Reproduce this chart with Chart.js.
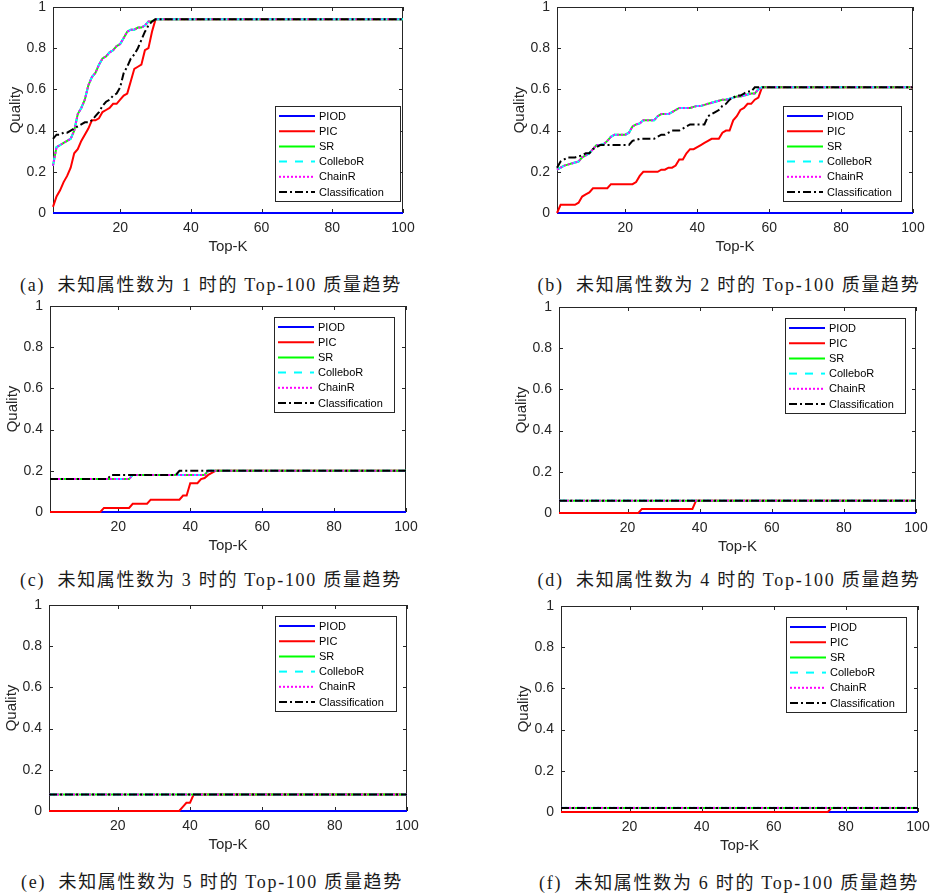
<!DOCTYPE html>
<html>
<head>
<meta charset="utf-8">
<script src="https://cdn.jsdelivr.net/npm/chart.js@4.4.0/dist/chart.umd.min.js"></script>
<style>
body { margin: 0; background: #fff; width: 932px; height: 894px; overflow: hidden; position: relative; }
canvas { position: absolute; }
.cap { position: absolute; font-family: "Liberation Serif", "Noto Sans CJK SC", serif; font-size: 18px; letter-spacing: 1.7px; color: #1a1a1a; white-space: pre; transform: translate(-50%, -50%); }
</style>
</head>
<body>
<script>
// series + axis labels
const seriesNames = ['PIOD', 'PIC', 'SR', 'ColleboR', 'ChainR', 'Classification'];
const xTicks = [20, 40, 60, 80, 100];
const yTicks = [0, 0.2, 0.4, 0.6, 0.8, 1];
const captions = [
    '(a)  未知属性数为 1 时的 Top-100 质量趋势',
    '(b)  未知属性数为 2 时的 Top-100 质量趋势',
    '(c)  未知属性数为 3 时的 Top-100 质量趋势',
    '(d)  未知属性数为 4 时的 Top-100 质量趋势',
    '(e)  未知属性数为 5 时的 Top-100 质量趋势',
    '(f)  未知属性数为 6 时的 Top-100 质量趋势'
];

// [Top-K, Quality]. SR, ColleboR and ChainR coincide -> one array "upper"
const piod_a = [[1, 0], [100, 0]];
const pic_a = [[1, .03], [2, .08], [3, .11], [4, .15], [5, .18], [6, .22], [7, .29], [8, .31], [9, .35], [10, .38],
    [11, .41], [12, .45], [13, .45], [14, .46], [15, .49], [16, .50], [17, .51], [18, .53], [19, .53], [20, .55],
    [21, .57], [22, .58], [23, .64], [24, .70], [25, .71], [26, .72], [27, .79], [28, .80], [29, .88], [30, .94], [100, .94]];
const upper_a = [[1, .23], [2, .32], [3, .33], [4, .34], [5, .35], [6, .36], [7, .40], [8, .48], [9, .51], [10, .55],
    [11, .62], [12, .66], [13, .68], [14, .72], [15, .75], [16, .76], [17, .78], [18, .79], [19, .81], [20, .82],
    [21, .85], [22, .88], [23, .89], [24, .89], [25, .90], [26, .90], [27, .91], [28, .93], [29, .93], [30, .94], [100, .94]];
const cls_a = [[1, .36], [2, .38], [3, .38], [4, .39], [5, .39], [6, .40], [7, .41], [8, .42], [9, .43], [10, .44],
    [11, .44], [12, .45], [13, .47], [14, .49], [15, .52], [16, .54], [17, .55], [18, .57], [19, .58], [20, .61],
    [21, .68], [22, .71], [23, .75], [24, .77], [25, .80], [26, .84], [27, .88], [28, .91], [29, .93], [30, .94], [100, .94]];

const piod_b = [[1, 0], [100, 0]];
const pic_b = [[1, 0], [2, .04], [6, .04], [7, .05], [8, .08], [9, .09], [10, .10], [11, .12], [15, .12], [16, .14],
    [22, .14], [23, .15], [24, .18], [25, .20], [29, .20], [30, .21], [31, .21], [32, .22], [33, .22], [34, .23],
    [35, .26], [36, .26], [37, .29], [38, .31], [39, .31], [40, .32], [41, .33], [42, .34], [43, .35], [44, .36],
    [46, .36], [47, .39], [48, .40], [49, .40], [50, .45], [51, .47], [52, .50], [53, .51], [54, .53], [55, .53],
    [56, .55], [57, .56], [58, .61], [100, .61]];
const upper_b = [[1, .21], [2, .22], [3, .23], [4, .235], [5, .24], [6, .245], [7, .25], [8, .27], [9, .28], [10, .29],
    [11, .31], [12, .33], [13, .33], [14, .335], [15, .35], [16, .37], [17, .38], [20, .38], [21, .39], [22, .42],
    [23, .43], [24, .435], [25, .45], [28, .45], [29, .47], [30, .48], [32, .48], [33, .49], [34, .50], [35, .51],
    [38, .51], [39, .515], [40, .52], [41, .52], [42, .525], [43, .53], [44, .535], [45, .54], [46, .545], [47, .55],
    [48, .55], [49, .555], [50, .56], [51, .565], [52, .565], [53, .57], [54, .575], [55, .58], [56, .58], [57, .60],
    [58, .61], [100, .61]];
const cls_b = [[1, .22], [2, .25], [3, .26], [4, .27], [6, .27], [7, .275], [8, .28], [9, .29], [10, .29], [11, .31],
    [12, .32], [13, .33], [21, .33], [22, .35], [23, .355], [24, .36], [28, .36], [29, .37], [30, .38], [31, .38],
    [32, .39], [33, .40], [35, .40], [36, .41], [37, .42], [38, .43], [42, .43], [43, .47], [44, .48], [45, .49],
    [46, .50], [47, .52], [48, .53], [49, .55], [50, .56], [51, .57], [52, .57], [53, .58], [54, .59], [55, .59],
    [56, .61], [100, .61]];

const piod_c = [[1, 0], [100, 0]];
const pic_c = [[1, 0], [15, 0], [16, .02], [23, .02], [24, .04], [28, .04], [29, .06], [37, .06], [38, .08], [39, .08],
    [40, .14], [42, .14], [43, .16], [44, .165], [45, .18], [46, .19], [47, .20], [100, .20]];
const upper_c = [[1, .16], [23, .16], [24, .18], [44, .18], [45, .20], [100, .20]];
const cls_c = [[1, .16], [17, .16], [18, .18], [36, .18], [37, .20], [100, .20]];

const piod_d = [[1, 0], [100, 0]];
const pic_d = [[1, 0], [23, 0], [24, .02], [38, .02], [39, .06], [100, .06]];
const upper_d = [[1, .06], [100, .06]];
const cls_d = [[1, .06], [100, .06]];

const piod_e = [[1, 0], [100, 0]];
const pic_e = [[1, 0], [37, 0], [38, .02], [39, .04], [40, .04], [41, .08], [100, .08]];
const upper_e = [[1, .08], [100, .08]];
const cls_e = [[1, .08], [100, .08]];

const piod_f = [[1, 0], [100, 0]];
const pic_f = [[1, 0], [75, 0], [76, .02], [100, .02]];
const upper_f = [[1, .02], [100, .02]];
const cls_f = [[1, .02], [100, .02]];

const seriesColors = ['#0000ff', '#ff0000', '#00ff00', '#00ffff', '#ff00ff', '#000000'];
const seriesDash = [[], [], [], [8, 8], [2, 2], [8, 3, 2, 3]];

// layout of the six panels
const panels = [
    { left: 0, top: 0, pw: 350, series: [piod_a, pic_a, upper_a, upper_a, upper_a, cls_a], legend: { corner: 'se', dx: 3, dy: 12, w: 125 }, cap: [211, 283] },
    { left: 504, top: 0, pw: 356, series: [piod_b, pic_b, upper_b, upper_b, upper_b, cls_b], legend: { corner: 'se', dx: 12, dy: 12, w: 118 }, cap: [729, 283] },
    { left: -3, top: 299, pw: 356, series: [piod_c, pic_c, upper_c, upper_c, upper_c, cls_c], legend: { corner: 'ne', dx: 12, dy: 11, w: 120 }, cap: [211, 578] },
    { left: 506, top: 300, pw: 357, series: [piod_d, pic_d, upper_d, upper_d, upper_d, cls_d], legend: { corner: 'ne', dx: 11, dy: 11, w: 120 }, cap: [729, 578] },
    { left: -4, top: 598, pw: 358, series: [piod_e, pic_e, upper_e, upper_e, upper_e, cls_e], legend: { corner: 'ne', dx: 11, dy: 11, w: 121 }, cap: [212, 880] },
    { left: 508, top: 599, pw: 357, series: [piod_f, pic_f, upper_f, upper_f, upper_f, cls_f], legend: { corner: 'ne', dx: 12, dy: 11, w: 120 }, cap: [729, 881] }
];

const axisColor = '#262626';
const sansFont = '"Liberation Sans", Arial, sans-serif';

// matlab style box with inward ticks, drawn under the lines
const matlabBox = {
    id: 'matlabBox',
    beforeDatasetsDraw(chart) {
        const { ctx, chartArea: a, scales } = chart;
        ctx.save();
        ctx.strokeStyle = axisColor;
        ctx.lineWidth = 1;
        ctx.strokeRect(a.left + 0.5, a.top + 0.5, a.right - a.left - 1, a.bottom - a.top - 1);
        ctx.beginPath();
        scales.x.ticks.forEach(t => {
            const px = Math.round(scales.x.getPixelForValue(t.value)) + 0.5;
            ctx.moveTo(px, a.bottom); ctx.lineTo(px, a.bottom - 4);
            ctx.moveTo(px, a.top); ctx.lineTo(px, a.top + 4);
        });
        scales.y.ticks.forEach(t => {
            const py = Math.round(scales.y.getPixelForValue(t.value)) + 0.5;
            ctx.moveTo(a.left, py); ctx.lineTo(a.left + 4, py);
            ctx.moveTo(a.right, py); ctx.lineTo(a.right - 4, py);
        });
        ctx.stroke();
        ctx.restore();
    }
};

// boxed legend inside the plot area
const boxLegend = {
    id: 'boxLegend',
    afterDatasetsDraw(chart, args, opts) {
        const { ctx, chartArea } = chart;
        const w = opts.w, h = 95;
        const x = Math.round(chartArea.right - opts.dx - w);
        const y = Math.round(opts.corner === 'se' ? chartArea.bottom - opts.dy - h : chartArea.top + opts.dy);
        ctx.save();
        ctx.fillStyle = '#fff';
        ctx.fillRect(x, y, w, h);
        ctx.strokeStyle = axisColor;
        ctx.lineWidth = 1;
        ctx.strokeRect(x + 0.5, y + 0.5, w, h);
        ctx.font = '11px ' + sansFont;
        ctx.textBaseline = 'middle';
        chart.data.datasets.forEach((ds, i) => {
            const ry = y + 10 + i * 15.2;
            ctx.strokeStyle = ds.borderColor;
            ctx.lineWidth = 2;
            ctx.setLineDash(ds.borderDash);
            ctx.beginPath();
            ctx.moveTo(x + 4, ry);
            ctx.lineTo(x + 40, ry);
            ctx.stroke();
            ctx.setLineDash([]);
            ctx.fillStyle = '#000';
            ctx.fillText(ds.label, x + 44, ry + 0.5);
        });
        ctx.restore();
    }
};

panels.forEach((p, n) => {
    const canvas = document.createElement('canvas');
    canvas.width = 53 + p.pw + 25;
    canvas.height = 256;
    canvas.style.left = p.left + 'px';
    canvas.style.top = p.top + 'px';
    document.body.appendChild(canvas);

    const cap = document.createElement('div');
    cap.className = 'cap';
    cap.textContent = captions[n];
    cap.style.left = p.cap[0] + 'px';
    cap.style.top = p.cap[1] + 'px';
    document.body.appendChild(cap);

    const datasets = seriesNames.map((name, i) => ({
        label: name,
        data: p.series[i].map(pt => ({ x: pt[0], y: pt[1] })),
        borderColor: seriesColors[i],
        borderDash: seriesDash[i],
        borderWidth: 2,
        pointRadius: 0,
        fill: false,
        tension: 0,
        clip: false,
        order: seriesNames.length - i
    }));

    new Chart(canvas.getContext('2d'), {
        type: 'line',
        data: { datasets: datasets },
        options: {
            responsive: false,
            animation: false,
            events: [],
            layout: { padding: { top: 7, right: 25, left: 0, bottom: 0 } },
            plugins: {
                legend: { display: false },
                tooltip: { enabled: false },
                boxLegend: p.legend
            },
            scales: {
                x: {
                    type: 'linear', min: 1, max: 100,
                    afterBuildTicks: s => { s.ticks = xTicks.map(v => ({ value: v })); },
                    afterFit: s => { s.height = 43; s.paddingLeft = 0; s.paddingRight = 0; },
                    grid: { display: false, drawTicks: false, tickLength: 0 },
                    border: { display: false },
                    ticks: { padding: 7, color: axisColor, maxRotation: 0, autoSkip: false, font: { family: sansFont, size: 14 } },
                    title: { display: true, text: 'Top-K', color: axisColor, padding: { top: 0, bottom: 0 }, font: { family: sansFont, size: 15 } }
                },
                y: {
                    type: 'linear', min: 0, max: 1,
                    afterBuildTicks: s => { s.ticks = yTicks.map(v => ({ value: v })); },
                    afterFit: s => { s.width = 53; s.paddingTop = 0; s.paddingBottom = 0; },
                    grid: { display: false, drawTicks: false, tickLength: 0 },
                    border: { display: false },
                    ticks: { padding: 7, color: axisColor, callback: v => String(v), font: { family: sansFont, size: 14 } },
                    title: { display: true, text: 'Quality', color: axisColor, padding: { top: 7, bottom: 0 }, font: { family: sansFont, size: 15 } }
                }
            }
        },
        plugins: [matlabBox, boxLegend]
    });
});
</script>
</body>
</html>
